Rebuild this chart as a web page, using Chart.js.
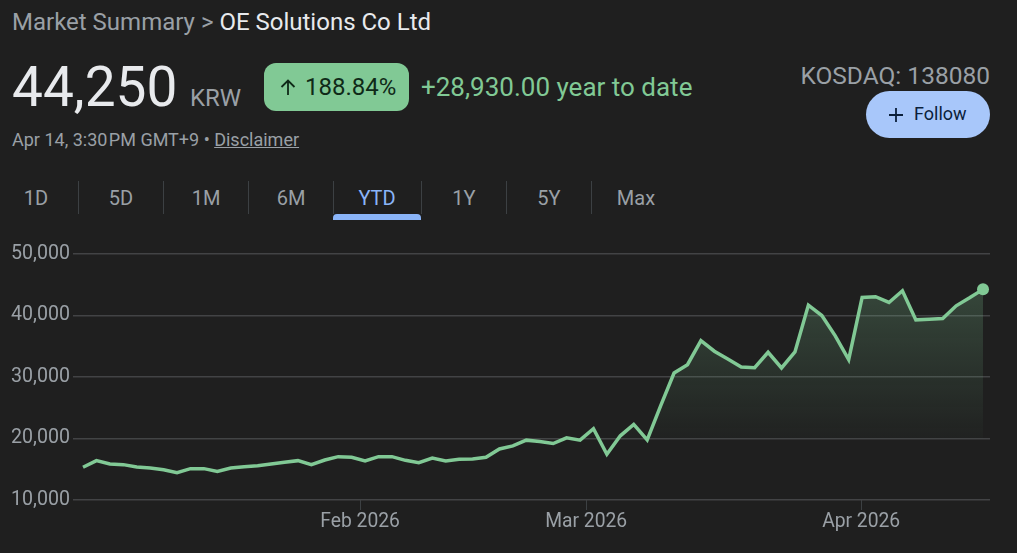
<!DOCTYPE html>
<html>
<head>
<meta charset="utf-8">
<title>OE Solutions Co Ltd</title>
<script src="https://cdn.jsdelivr.net/npm/chart.js@4"></script>
<style>
  html, body { margin: 0; padding: 0; background: #1f1f1f; overflow: hidden; }
  body { width: 1017px; height: 553px; position: relative; font-family: Roboto, sans-serif; }
  .txt { position: absolute; white-space: nowrap; line-height: 1; }
  #chartBox { position: absolute; left: 0; top: 0; width: 1017px; height: 553px; }
  .tab { position: absolute; top: 188px; font-size: 20px; line-height: 20px; color: #9aa0a6; transform: translateX(-50%); }
  .sep { position: absolute; top: 181px; width: 1px; height: 33px; background: #3c4043; }
</style>
</head>
<body>
<div class="txt" style="left:12px;top:10px;font-size:24px;color:#9aa0a6">Market Summary &gt; <span style="color:#e8eaed">OE Solutions Co Ltd</span></div>
<div class="txt" style="left:12px;top:60px;font-size:55px;color:#e8eaed">44,250</div>
<div class="txt" style="left:190px;top:86px;font-size:24px;color:#9aa0a6">KRW</div>
<div style="position:absolute;left:264px;top:63px;width:145px;height:48px;border-radius:12px;background:#81c995"></div>
<svg style="position:absolute;left:279px;top:79px" width="18" height="17" viewBox="0 0 18 17"><path d="M9 16V1.5M2.5 8L9 1.5L15.5 8" fill="none" stroke="#0f2a18" stroke-width="1.8"/></svg>
<div class="txt" style="left:305px;top:75px;font-size:24px;color:#0f2a18">188.84%</div>
<div class="txt" style="left:421px;top:74px;font-size:26px;color:#81c995">+28,930.00 year to date</div>
<div class="txt" style="right:27px;top:64px;font-size:24.5px;color:#9aa0a6">KOSDAQ: 138080</div>
<div style="position:absolute;left:866px;top:91px;width:124px;height:47px;border-radius:24px;background:#a8c7fa"></div>
<svg style="position:absolute;left:889px;top:108px" width="14" height="14" viewBox="0 0 14 14"><path d="M7 0V14M0 7H14" fill="none" stroke="#0b1f3a" stroke-width="1.8"/></svg>
<div class="txt" style="left:914px;top:105px;font-size:18px;color:#0b1f3a">Follow</div>
<div class="txt" style="left:12px;top:131px;font-size:18px;color:#9aa0a6">Apr 14, 3:30<span style="letter-spacing:-3px"> </span>PM GMT+9 • <span style="text-decoration:underline">Disclaimer</span></div>

<div class="tab" style="left:36px">1D</div>
<div class="tab" style="left:121px">5D</div>
<div class="tab" style="left:206px">1M</div>
<div class="tab" style="left:291px">6M</div>
<div class="tab" style="left:377px;color:#8ab4f8">YTD</div>
<div class="tab" style="left:464px">1Y</div>
<div class="tab" style="left:549px">5Y</div>
<div class="tab" style="left:636px">Max</div>
<div class="sep" style="left:78px"></div>
<div class="sep" style="left:163px"></div>
<div class="sep" style="left:248px"></div>
<div class="sep" style="left:333px"></div>
<div class="sep" style="left:421px"></div>
<div class="sep" style="left:506px"></div>
<div class="sep" style="left:591px"></div>
<div style="position:absolute;left:333px;top:214px;width:88px;height:6px;border-radius:4px 4px 0 0;background:#8ab4f8"></div>

<div id="chartBox"><canvas id="priceChart" width="1017" height="553"></canvas></div>

<script>
// closing prices, one per trading day
const prices = [
  15320, 16400, 15850, 15750, 15370, 15200, 14930, 14450, 15100, 15100,
  14660, 15200, 15420, 15580, 15850, 16130, 16400, 15750, 16500, 17050,
  16940, 16340, 17050, 17050, 16450, 16070, 16830, 16340, 16610, 16670,
  16940, 18300, 18800, 19730, 19500, 19180, 20110, 19730, 21590, 17430,
  20440, 22300, 19780, 25300, 30650, 32010, 35920, 34190, 32930, 31630,
  31520, 34020, 31470, 34080, 41690, 40000, 36690, 32830, 42940, 43050,
  42120, 44020, 39290, 39380, 39510, 41580, 42880, 44250
];
const yTicks = [10000, 20000, 30000, 40000, 50000];
const monthLabels = ['Feb 2026', 'Mar 2026', 'Apr 2026'];
// where the month starts fall between trading days
const monthPositions = [20.63, 37.46, 57.93];

const canvas = document.getElementById('priceChart');
const ctx = canvas.getContext('2d');

const areaGradient = ctx.createLinearGradient(0, 285, 0, 438);
areaGradient.addColorStop(0, 'rgba(129,201,149,0.24)');
areaGradient.addColorStop(1, 'rgba(129,201,149,0.02)');

const lastIndex = prices.length - 1;

new Chart(canvas, {
  type: 'line',
  data: {
    datasets: [{
      data: prices.map((p, i) => ({ x: i, y: p })),
      borderColor: '#81c995',
      borderWidth: 3.5,
      borderJoinStyle: 'miter',
      tension: 0,
      fill: { value: 20000, above: areaGradient, below: 'transparent' },
      pointRadius: c => (c.dataIndex === lastIndex ? 6 : 0),
      pointBackgroundColor: '#81c995',
      pointBorderWidth: 0,
      pointHoverRadius: 0
    }]
  },
  options: {
    responsive: false,
    animation: false,
    events: [],
    layout: { padding: { top: 254, right: 27, left: 0, bottom: 0 } },
    plugins: { legend: { display: false }, tooltip: { enabled: false } },
    scales: {
      x: {
        type: 'linear',
        min: -0.745,
        max: 67.52,
        afterFit: s => { s.height = 53; },
        afterBuildTicks: s => { s.ticks = monthPositions.map(v => ({ value: v })); },
        grid: { drawOnChartArea: false, drawTicks: true, tickLength: 10, color: '#3c4043' },
        border: { display: false },
        ticks: {
          autoSkip: false,
          maxRotation: 0,
          padding: 1,
          color: '#9aa0a6',
          font: { family: 'Roboto', size: 19.3 },
          callback: v => monthLabels[monthPositions.indexOf(v)]
        }
      },
      y: {
        min: 10000,
        max: 50000,
        afterFit: s => { s.width = 73; },
        afterBuildTicks: s => { s.ticks = yTicks.map(v => ({ value: v })); },
        grid: { drawTicks: false, color: '#424345', lineWidth: 1.5 },
        border: { display: false },
        ticks: {
          padding: 3,
          color: '#9aa0a6',
          font: { family: 'Roboto', size: 19.6 },
          callback: v => v.toLocaleString('en-US')
        }
      }
    }
  }
});
</script>
</body>
</html>
